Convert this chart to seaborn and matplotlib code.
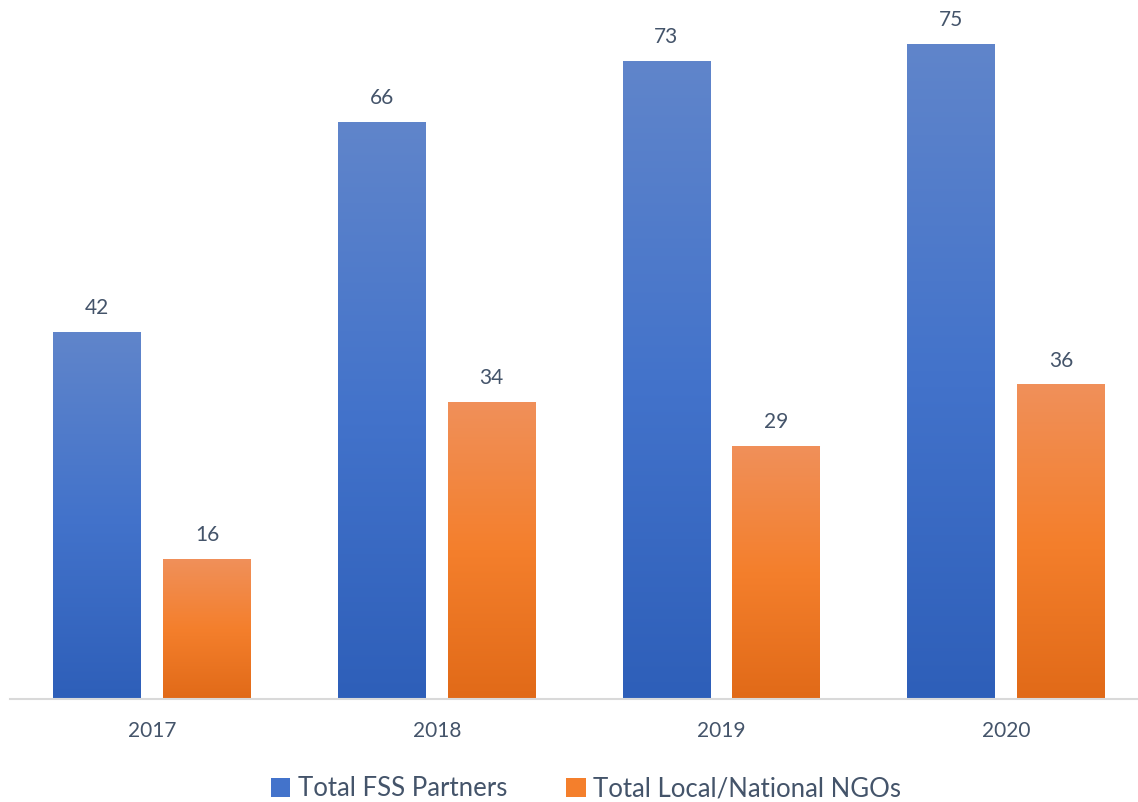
import numpy as np
import pandas as pd
import matplotlib
matplotlib.use("Agg")
import matplotlib.pyplot as plt
import seaborn as sns
from matplotlib.colors import LinearSegmentedColormap
from matplotlib.patches import Patch

years = ["2017", "2018", "2019", "2020"]
fss_partners = [42, 66, 73, 75]
local_ngos = [16, 34, 29, 36]
series_names = ["Total FSS Partners", "Total Local/National NGOs"]

df = pd.DataFrame({
    "year": years * 2,
    "value": fss_partners + local_ngos,
    "series": [series_names[0]] * 4 + [series_names[1]] * 4,
})

sns.set_theme(style="white")
plt.rcParams["font.family"] = ["Lato", "DejaVu Sans"]
TXT = "#44546A"

blue_mid = "#4472C4"
orange_mid = "#ED7D31"
grads = {
    series_names[0]: ["#6085CA", "#4373CB", "#2E5FB9"],
    series_names[1]: ["#F0905A", "#F47F2C", "#E16A18"],
}

fig = plt.figure(figsize=(11.38, 8.02), dpi=100)
ax = fig.add_axes([10 / 1138, 103 / 802, 1 - 10 / 1138, 699 / 802])

sns.barplot(data=df, x="year", y="value", hue="series", order=years,
            hue_order=series_names, palette=[blue_mid, orange_mid],
            width=0.772, gap=0.2, ax=ax, legend=False)

ax.set_xlim(-0.5, 3.464)
ax.set_ylim(0, 80)

# gradient overlay on each bar
for cont, name in zip(ax.containers, series_names):
    cmap = LinearSegmentedColormap.from_list(name, grads[name][::-1])
    grad = np.linspace(0, 1, 256).reshape(-1, 1)
    for bar, val in zip(cont, cont.datavalues):
        x0, y0 = bar.get_x(), bar.get_y()
        w, h = bar.get_width(), bar.get_height()
        im = ax.imshow(grad, cmap=cmap, aspect="auto", origin="lower",
                       extent=[x0, x0 + w, y0, y0 + h], zorder=bar.get_zorder() + 0.1)
        im.set_clip_path(bar)
        ax.annotate(f"{val:g}", (x0 + w / 2, y0 + h), xytext=(0, 10),
                    textcoords="offset points", ha="center", va="bottom",
                    fontsize=15, color=TXT)

ax.set_xlim(-0.5, 3.464)
ax.set_ylim(0, 80)
ax.set_xlabel("")
ax.set_ylabel("")
ax.set_yticks([])
for s in ["top", "right", "left"]:
    ax.spines[s].set_visible(False)
ax.spines["bottom"].set_color("#D9D9D9")
ax.spines["bottom"].set_linewidth(1.5)
ax.tick_params(axis="x", length=0, pad=16, labelsize=15, labelcolor=TXT)

handles = [Patch(facecolor=grads[n][1], edgecolor="none") for n in series_names]
fig.legend(handles, series_names, loc="center", bbox_to_anchor=(586 / 1138, 1 - 789 / 802),
           ncol=2, frameon=False, fontsize=18.5, labelcolor=TXT,
           handlelength=0.75, handleheight=0.75, handletextpad=0.3, columnspacing=2.3)

fig.savefig("out.png", dpi=100)
